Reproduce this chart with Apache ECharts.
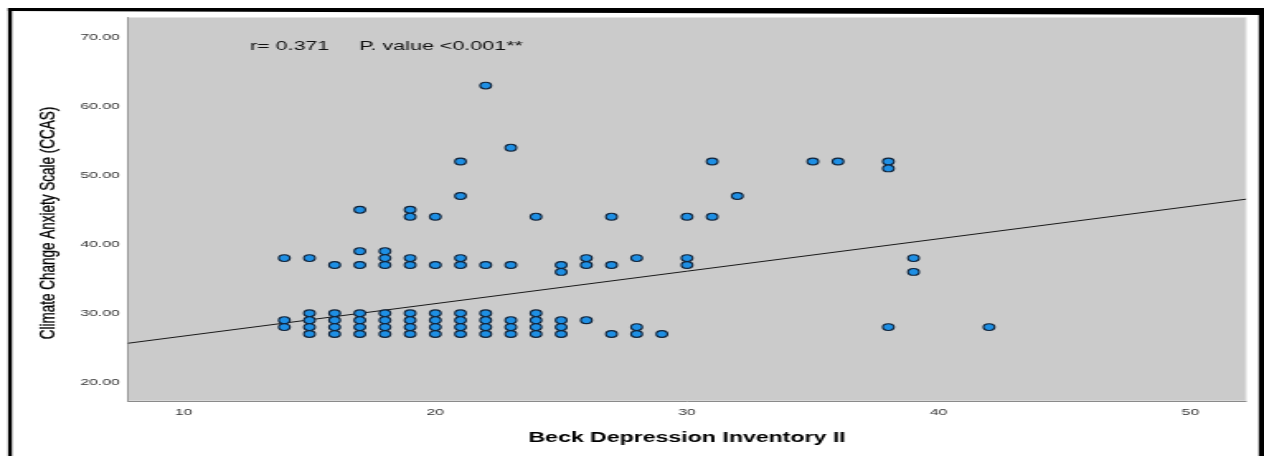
<!DOCTYPE html>
<html>
<head>
<meta charset="utf-8">
<title>Beck Depression Inventory II vs Climate Change Anxiety Scale</title>
<script src="https://cdn.jsdelivr.net/npm/echarts@6/dist/echarts.min.js"></script>
<style>
  html, body { margin: 0; padding: 0; background: #ffffff; overflow: hidden; }
  /* The chart is laid out on a narrower canvas and stretched sideways
     to the wide 1264px figure, so markers and lettering are widened too. */
  #chart {
    position: absolute; left: 0; top: 0;
    width: 766px; height: 456px;
    transform: scaleX(1.650131);
    transform-origin: 0 0;
  }
</style>
</head>
<body>
<div id="chart"></div>
<script>
// BDI-II score of each column of points
const bdiLevels = [14, 15, 16, 17, 18, 19, 20, 21, 22, 23, 24, 25, 26, 27, 28, 29, 30, 31, 32, 35, 36, 38, 39, 42];
// CCAS scores plotted at each BDI-II level (same order as bdiLevels)
const ccasAtLevel = [
  [38, 29, 28],
  [38, 30, 29, 28, 27],
  [37, 30, 29, 28, 27],
  [45, 39, 37, 30, 29, 28, 27],
  [39, 38, 37, 30, 29, 28, 27],
  [45, 44, 38, 37, 30, 29, 28, 27],
  [44, 37, 30, 29, 28, 27],
  [52, 47, 38, 37, 30, 29, 28, 27],
  [63, 37, 30, 29, 28, 27],
  [54, 37, 29, 28, 27],
  [44, 30, 29, 28, 27],
  [37, 36, 29, 28, 27],
  [38, 37, 29],
  [44, 37, 27],
  [38, 28, 27],
  [27],
  [44, 38, 37],
  [52, 44],
  [47],
  [52],
  [52],
  [52, 51, 28],
  [38, 36],
  [28]
];
// Linear fit line: CCAS = fitIntercept + fitSlope * BDI
const fitIntercept = 22.0;
const fitSlope = 0.47;
// Axis ranges and tick labels
const xRange = [7.79, 52.21];
const yRange = [17.29, 72.87];
const xTickValues = [10, 20, 30, 40, 50];
const yTickValues = [20, 30, 40, 50, 60, 70];
// Text
const xTitle = 'Beck Depression Inventory II';
const yTitle = 'Climate Change Anxiety Scale (CCAS)';
const statsText = 'r= 0.371     P. value <0.001**';

const points = [];
bdiLevels.forEach(function (bdi, i) {
  ccasAtLevel[i].forEach(function (ccas) { points.push([bdi, ccas]); });
});
const fitLine = xRange.map(function (x) { return [x, fitIntercept + fitSlope * x]; });

const FONT = "'Liberation Sans', Arial, Helvetica, sans-serif";
const S = 1264 / 766; // horizontal stretch of the page

const chart = echarts.init(document.getElementById('chart'), null, { renderer: 'canvas', devicePixelRatio: 1 });

chart.setOption({
  backgroundColor: '#ffffff',
  animation: false,
  grid: {
    left: 128 / S,
    right: 766 - 1246 / S,
    top: 17.5,
    bottom: 55,
    show: true,
    backgroundColor: '#cbcbcb',
    borderColor: '#e4e4e4',
    borderWidth: 1
  },
  xAxis: {
    type: 'value',
    min: xRange[0],
    max: xRange[1],
    axisLine: { show: true, onZero: false, lineStyle: { color: '#8a8a8a', width: 1 } },
    axisTick: { show: false },
    splitLine: { show: false },
    axisLabel: {
      customValues: xTickValues,
      margin: 6,
      fontFamily: FONT,
      fontSize: 9.5,
      color: '#333333'
    }
  },
  yAxis: {
    type: 'value',
    min: yRange[0],
    max: yRange[1],
    axisLine: { show: true, onZero: false, lineStyle: { color: '#9a9a9a', width: 1 } },
    axisTick: { show: false },
    splitLine: { show: false },
    axisLabel: {
      customValues: yTickValues,
      margin: 5,
      fontFamily: FONT,
      fontSize: 9.5,
      color: '#333333',
      formatter: function (v) { return v.toFixed(2); }
    }
  },
  series: [
    {
      type: 'line',
      data: fitLine,
      symbol: 'none',
      silent: true,
      z: 2,
      lineStyle: { color: '#1a1a1a', width: 1 }
    },
    {
      type: 'scatter',
      data: points,
      symbol: 'circle',
      symbolSize: 6.8,
      z: 3,
      itemStyle: {
        color: '#1e8fe4',
        borderColor: '#12243a',
        borderWidth: 1.1,
        opacity: 1
      }
    }
  ],
  graphic: [
    // outer frame
    { type: 'rect', shape: { x: 8 / S, y: 8, width: 4 / S, height: 448 }, style: { fill: '#000' }, z: 100 },
    { type: 'polygon', shape: { points: [[8 / S, 8], [766, 8], [766, 15], [8 / S, 11]] }, style: { fill: '#000' }, z: 100 },
    { type: 'rect', shape: { x: 1258.7 / S, y: 8, width: 766 - 1258.7 / S, height: 448 }, style: { fill: '#000' }, z: 100 },
    // correlation annotation
    {
      type: 'text', x: 250 / S, y: 46.5, z: 50,
      style: { text: statsText, font: '13px ' + FONT, fill: '#111111', textAlign: 'left', textVerticalAlign: 'middle' }
    },
    // axis titles
    {
      type: 'text', x: 687 / S, y: 438.5, z: 50,
      style: { text: xTitle, font: 'bold 14px ' + FONT, fill: '#000', textAlign: 'center', textVerticalAlign: 'middle' }
    },
    {
      type: 'text', x: 48 / S, y: 223, rotation: Math.PI / 2, z: 50,
      style: { text: yTitle, font: '13.5px ' + FONT, fill: '#000', textAlign: 'center', textVerticalAlign: 'middle',
               stroke: '#000', lineWidth: 0.25 }
    }
  ]
});
</script>
</body>
</html>
